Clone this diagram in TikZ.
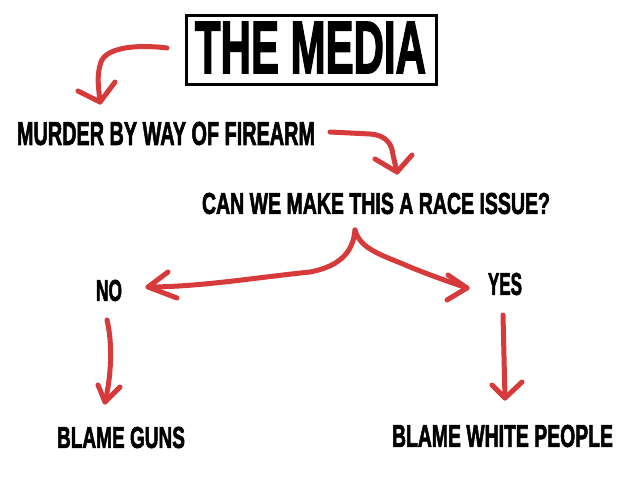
\documentclass[tikz,border=0pt]{standalone}
\usepackage{fontspec}
\usepackage{graphicx}
\setmainfont{Liberation Sans}[BoldFeatures={FakeBold=2.5}]
\definecolor{penred}{RGB}{214,58,58}
\newcommand{\lbl}[3]{\resizebox{#1pt}{#2pt}{\bfseries #3}}
\tikzset{
  txt/.style={inner sep=0pt, anchor=center},
  pen/.style={draw=penred, line width=5pt, line cap=round, line join=round},
  titlebox/.style={draw=black, line width=3pt, inner sep=0pt, minimum width=250pt, minimum height=69pt}
}
\begin{document}
\begin{tikzpicture}[x=1pt,y=-1pt]
\useasboundingbox[fill=white] (0,0) rectangle (643,482);
% nodes
\node[titlebox] (media) at (311,49.5) {};
\node[txt] (mediatxt) at (310.5,47.5) {\lbl{231}{51}{THE MEDIA}};
\node[txt] (murder) at (166,133.5) {\lbl{298}{23}{MURDER BY WAY OF FIREARM}};
\node[txt] (race) at (376,203.5) {\lbl{348}{21}{CAN WE MAKE THIS A RACE ISSUE?}};
\node[txt] (no) at (109,290.5) {\lbl{26}{21}{NO}};
\node[txt] (yes) at (505,284) {\lbl{34}{22}{YES}};
\node[txt] (guns) at (121,437.5) {\lbl{128}{21}{BLAME GUNS}};
\node[txt] (white) at (502.5,436) {\lbl{221}{22}{BLAME WHITE PEOPLE}};
% connector ends
\coordinate (a1s) at (167,48);
\coordinate (a1t) at (100,102);
\coordinate (a2s) at (330,132);
\coordinate (a2t) at (397,172);
\coordinate (apex) at (355,230);
\coordinate (lt) at (148,287);
\coordinate (rt) at (467,288);
\coordinate (nos) at (107,320);
\coordinate (not) at (105,402);
\coordinate (yess) at (503,315);
\coordinate (yest) at (505,398);
% arrow 1
\draw[pen] (a1s) .. controls (135,44) and (106,48) .. (101,62) .. controls (96,76) and (99,90) .. (a1t);
\draw[pen] (78,91) -- (a1t) -- (115,82);
% arrow 2
\draw[pen] (a2s) -- (370,134) .. controls (386,135) and (392,144) .. (393,155) -- (a2t);
\draw[pen] (375,159) -- (a2t) -- (412,155);
% split arrow
\draw[pen] (apex) .. controls (353,255) and (336,267) .. (310,272) .. controls (260,277) and (200,287) .. (lt);
\draw[pen] (168,272) -- (lt) -- (177,298);
\draw[pen] (apex) .. controls (360,250) and (385,256) .. (410,267) .. controls (432,276) and (450,282) .. (rt);
\draw[pen] (448,275) -- (rt) -- (447,300);
% NO arrow
\draw[pen] (nos) .. controls (113,345) and (111,378) .. (not);
\draw[pen] (98,385) -- (not) -- (120,387);
% YES arrow
\draw[pen] (yess) -- (yest);
\draw[pen] (492,385) -- (yest) -- (522,382);
\end{tikzpicture}
\end{document}
